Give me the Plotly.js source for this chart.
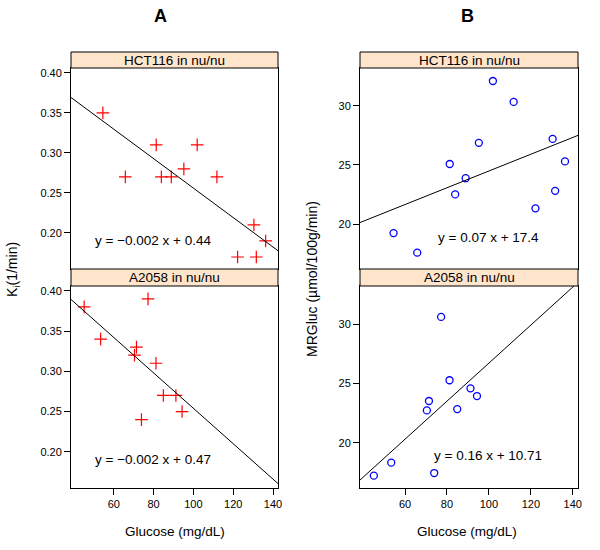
<!DOCTYPE html>
<html>
<head>
<meta charset="utf-8">
<script src="https://cdn.plot.ly/plotly-3.0.1.min.js"></script>
<style>html,body{margin:0;padding:0;background:#fff;}#chart{width:600px;height:550px;}</style>
</head>
<body>
<div id="chart"></div>
<script>
// ---- Data ----
var panelTitles = ["A", "B"];
var stripLabels = ["HCT116 in nu/nu", "A2058 in nu/nu"];
var xTitle = "Glucose (mg/dL)";
var yTitleA = "K<sub>i</sub>(1/min)";
var yTitleB = "MRGluc (µmol/100g/min)";

var glucHCT = [54.5, 65.8, 81.3, 83.9, 88.9, 95.2, 101.9, 111.8, 122.2, 130.4, 131.6, 136.3];
var kiHCT   = [0.35, 0.27, 0.31, 0.27, 0.27, 0.28, 0.31, 0.27, 0.17, 0.21, 0.17, 0.19];
var mrHCT   = [19.24, 17.58, 25.08, 22.51, 23.88, 26.87, 32.1, 30.33, 21.33, 27.2, 22.81, 25.3];

var glucA2058 = [45.1, 53.4, 70.4, 71.4, 73.9, 77.2, 81.2, 84.9, 91.2, 94.3];
var kiA2058   = [0.38, 0.34, 0.32, 0.33, 0.24, 0.39, 0.31, 0.27, 0.27, 0.25];
var mrA2058   = [17.24, 18.33, 22.73, 23.52, 17.46, 30.6, 25.27, 22.84, 24.59, 23.94];

// fitted line coefficients [HCT116, A2058]
var kiSlopes = [-0.00184, -0.0022];
var kiIntercepts = [0.44, 0.474];
var mrSlopes = [0.0709, 0.160];
var mrIntercepts = [17.4, 10.71];
var kiEqText = ["y = \u22120.002 x + 0.44", "y = \u22120.002 x + 0.47"];
var mrEqText = ["y = 0.07 x + 17.4", "y = 0.16 x + 10.71"];

var xTicks = [60, 80, 100, 120, 140];
var kiTicks = [0.20, 0.25, 0.30, 0.35, 0.40];
var mrTicks = [20, 25, 30];

// ---- Layout geometry ----
var W = 600, H = 550;
function px(x) { return x / W; }
function py(y) { return 1 - y / H; }
var xRange = [38.5, 142.5];
var kiRange = [0.155, 0.406];
var mrRange = [16.2, 33.2];
var FONT = "Liberation Sans, Arial, Helvetica, sans-serif";

var colA = [71, 278], colB = [360, 578];
var topPanel = [68, 269], botPanel = [286, 488];
var topStrip = [52, 68], botStrip = [269, 286];

function line(xr, slope, icpt) {
  return xr.map(function (x) { return icpt + slope * x; });
}

var traces = [
  {x: glucHCT, y: kiHCT, xaxis: 'x', yaxis: 'y', mode: 'markers', type: 'scatter',
   marker: {symbol: 'cross-thin-open', size: 9, color: '#ff0000', line: {color: '#ff0000', width: 1.2}}},
  {x: xRange, y: line(xRange, kiSlopes[0], kiIntercepts[0]), xaxis: 'x', yaxis: 'y', mode: 'lines', type: 'scatter',
   line: {color: '#000', width: 1}},
  {x: glucA2058, y: kiA2058, xaxis: 'x2', yaxis: 'y2', mode: 'markers', type: 'scatter',
   marker: {symbol: 'cross-thin-open', size: 9, color: '#ff0000', line: {color: '#ff0000', width: 1.2}}},
  {x: xRange, y: line(xRange, kiSlopes[1], kiIntercepts[1]), xaxis: 'x2', yaxis: 'y2', mode: 'lines', type: 'scatter',
   line: {color: '#000', width: 1}},
  {x: glucHCT, y: mrHCT, xaxis: 'x3', yaxis: 'y3', mode: 'markers', type: 'scatter',
   marker: {symbol: 'circle-open', size: 7, color: '#0000ff', line: {color: '#0000ff', width: 1.3}}},
  {x: xRange, y: line(xRange, mrSlopes[0], mrIntercepts[0]), xaxis: 'x3', yaxis: 'y3', mode: 'lines', type: 'scatter',
   line: {color: '#000', width: 1}},
  {x: glucA2058, y: mrA2058, xaxis: 'x4', yaxis: 'y4', mode: 'markers', type: 'scatter',
   marker: {symbol: 'circle-open', size: 7, color: '#0000ff', line: {color: '#0000ff', width: 1.3}}},
  {x: xRange, y: line(xRange, mrSlopes[1], mrIntercepts[1]), xaxis: 'x4', yaxis: 'y4', mode: 'lines', type: 'scatter',
   line: {color: '#000', width: 1}}
];

var tickFont = {family: FONT, size: 11, color: '#000'};
function xAx(col, panel, anchor, showTicks) {
  return {
    domain: [px(col[0]), px(col[1])], range: xRange, anchor: anchor,
    showgrid: false, zeroline: false, showline: true, mirror: true, linecolor: '#000', linewidth: 1,
    tickmode: 'array', tickvals: xTicks, ticks: showTicks ? 'outside' : '', ticklen: 6, tickcolor: '#000',
    showticklabels: showTicks, tickfont: tickFont, fixedrange: true
  };
}
function yAx(panel, range, anchor, tickvals, fmt) {
  return {
    domain: [py(panel[1]), py(panel[0])], range: range, anchor: anchor,
    showgrid: false, zeroline: false, showline: true, mirror: true, linecolor: '#000', linewidth: 1,
    tickmode: 'array', tickvals: tickvals, ticktext: tickvals.map(function (v) { return v.toFixed(fmt); }),
    ticks: 'outside', ticklen: 6, tickcolor: '#000', tickfont: tickFont, fixedrange: true
  };
}

var shapes = [];
var annotations = [];
[[colA, topStrip, 0], [colA, botStrip, 1], [colB, topStrip, 0], [colB, botStrip, 1]].forEach(function (s) {
  shapes.push({type: 'rect', xref: 'paper', yref: 'paper', x0: px(s[0][0]), x1: px(s[0][1]),
    y0: py(s[1][1]), y1: py(s[1][0]), fillcolor: '#FFE5CC', line: {color: '#000', width: 1}, layer: 'above'});
  annotations.push({xref: 'paper', yref: 'paper', x: px((s[0][0] + s[0][1]) / 2), y: py((s[1][0] + s[1][1]) / 2),
    text: stripLabels[s[2]], showarrow: false, xanchor: 'center', yanchor: 'middle',
    font: {family: FONT, size: 13.5, color: '#000'}});
});

// panel titles
annotations.push({xref: 'paper', yref: 'paper', x: px(160), y: py(16), text: '<b>' + panelTitles[0] + '</b>',
  showarrow: false, xanchor: 'center', yanchor: 'middle', font: {family: FONT, size: 18, color: '#000'}});
annotations.push({xref: 'paper', yref: 'paper', x: px(467), y: py(16), text: '<b>' + panelTitles[1] + '</b>',
  showarrow: false, xanchor: 'center', yanchor: 'middle', font: {family: FONT, size: 18, color: '#000'}});
// x titles
annotations.push({xref: 'paper', yref: 'paper', x: px(175), y: py(531), text: xTitle,
  showarrow: false, xanchor: 'center', yanchor: 'middle', font: {family: FONT, size: 13.5, color: '#000'}});
annotations.push({xref: 'paper', yref: 'paper', x: px(467), y: py(531), text: xTitle,
  showarrow: false, xanchor: 'center', yanchor: 'middle', font: {family: FONT, size: 13.5, color: '#000'}});
// y titles
annotations.push({xref: 'paper', yref: 'paper', x: px(13), y: py(270), text: yTitleA, textangle: -90,
  showarrow: false, xanchor: 'center', yanchor: 'middle', font: {family: FONT, size: 14, color: '#000'}});
annotations.push({xref: 'paper', yref: 'paper', x: px(312), y: py(279), text: yTitleB, textangle: -90,
  showarrow: false, xanchor: 'center', yanchor: 'middle', font: {family: FONT, size: 14, color: '#000'}});
// equations
var eqFont = {family: FONT, size: 13.5, color: '#000'};
annotations.push({xref: 'x', yref: 'y', x: 79.6, y: 0.19, text: kiEqText[0], showarrow: false, font: eqFont});
annotations.push({xref: 'x2', yref: 'y2', x: 79.8, y: 0.19, text: kiEqText[1], showarrow: false, font: eqFont});
annotations.push({xref: 'x3', yref: 'y3', x: 99.8, y: 18.85, text: mrEqText[0], showarrow: false, font: eqFont});
annotations.push({xref: 'x4', yref: 'y4', x: 99.6, y: 18.93, text: mrEqText[1], showarrow: false, font: eqFont});

var layout = {
  width: W, height: H, margin: {l: 0, r: 0, t: 0, b: 0},
  paper_bgcolor: '#fff', plot_bgcolor: '#fff', showlegend: false, hovermode: false,
  font: {family: FONT, color: '#000'},
  xaxis: xAx(colA, topPanel, 'y', false),
  yaxis: yAx(topPanel, kiRange, 'x', kiTicks, 2),
  xaxis2: xAx(colA, botPanel, 'y2', true),
  yaxis2: yAx(botPanel, kiRange, 'x2', kiTicks, 2),
  xaxis3: xAx(colB, topPanel, 'y3', false),
  yaxis3: yAx(topPanel, mrRange, 'x3', mrTicks, 0),
  xaxis4: xAx(colB, botPanel, 'y4', true),
  yaxis4: yAx(botPanel, mrRange, 'x4', mrTicks, 0),
  shapes: shapes, annotations: annotations
};

Plotly.newPlot('chart', traces, layout, {staticPlot: true, displayModeBar: false});
</script>
</body>
</html>
